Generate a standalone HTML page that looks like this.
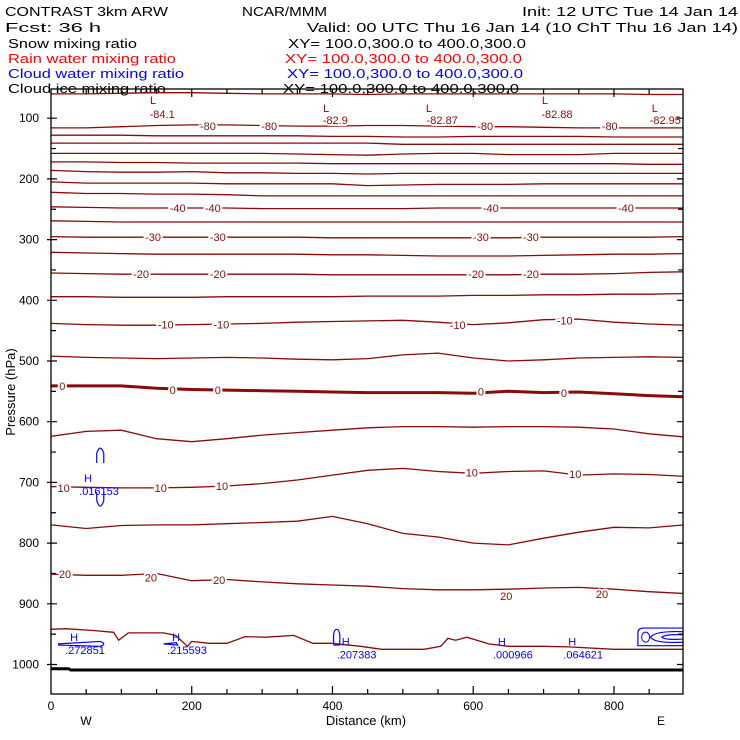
<!DOCTYPE html>
<html><head><meta charset="utf-8"><style>
html,body{margin:0;padding:0;background:#fff;}
svg{display:block;font-family:"Liberation Sans",sans-serif;}
</style></head><body>
<svg id="chart" width="740" height="740" viewBox="0 0 740 740" xmlns="http://www.w3.org/2000/svg">
<g font-size="13">
<text x="5" y="16" textLength="163" lengthAdjust="spacingAndGlyphs">CONTRAST  3km ARW</text>
<text x="242" y="16" textLength="85" lengthAdjust="spacingAndGlyphs">NCAR/MMM</text>
<text x="522" y="16" textLength="216" lengthAdjust="spacingAndGlyphs">Init: 12 UTC Tue 14 Jan 14</text>
<text x="5" y="32" textLength="96" lengthAdjust="spacingAndGlyphs">Fcst:    36 h</text>
<text x="307" y="32" textLength="431" lengthAdjust="spacingAndGlyphs">Valid: 00 UTC Thu 16 Jan 14 (10 ChT Thu 16 Jan 14)</text>
<text x="8" y="48" textLength="129" lengthAdjust="spacingAndGlyphs">Snow mixing ratio</text>
<text x="288" y="48" textLength="238" lengthAdjust="spacingAndGlyphs">XY= 100.0,300.0 to 400.0,300.0</text>
<text x="8" y="63" fill="#ff0000" textLength="168" lengthAdjust="spacingAndGlyphs">Rain water mixing ratio</text>
<text x="285" y="63" fill="#ff0000" textLength="237" lengthAdjust="spacingAndGlyphs">XY= 100.0,300.0 to 400.0,300.0</text>
<text x="8" y="78" fill="#0000ff" textLength="176" lengthAdjust="spacingAndGlyphs">Cloud water mixing ratio</text>
<text x="287" y="78" fill="#0000ff" textLength="236" lengthAdjust="spacingAndGlyphs">XY= 100.0,300.0 to 400.0,300.0</text>
<text x="8" y="93" textLength="158" lengthAdjust="spacingAndGlyphs">Cloud ice mixing ratio</text>
<text x="283" y="93" textLength="236" lengthAdjust="spacingAndGlyphs">XY= 100.0,300.0 to 400.0,300.0</text>
</g>
<g id="plot"></g>
<g id="axes"></g>
</svg>
<script>
const gridKm = [0,50,100,150,200,250,300,350,400,450,500,550,600,650,700,750,800,850,900];
const c01 = [60,60,59,58,58,59,60,60,60,61,60,60,60,60,60,60,60,61,61];
const c02 = [116,116,114,112,111,111,112,113,113,112,112,113,114,114,115,116,116,116,116];
const c03 = [128,128,128,129,129,129,129,129,130,130,131,131,130,130,130,130,131,131,131];
const c04 = [141,141,141,141,141,141,141,141,141,141,143,143,143,143,143,143,143,143,143];
const c05 = [158,158,158,158,158,158,158,159,160,161,159,158,158,160,160,160,158,158,158];
const c06 = [172,172,173,173,174,174,174,174,175,175,175,175,175,175,175,175,175,176,176];
const c07 = [186,188,189,189,188,190,190,191,191,192,191,191,191,191,191,191,191,191,191];
const c08 = [205,207,207,207,207,208,208,208,208,211,210,209,209,209,208,208,208,208,208];
const c09 = [222,224,224,225,225,226,228,228,228,228,228,228,228,228,228,228,228,228,228];
const c10 = [246,247,248,248,248,248,249,249,249,249,249,248,248,248,248,248,248,248,248];
const c11 = [269,270,271,271,271,271,271,271,271,271,271,271,271,271,271,271,271,271,271];
const c12 = [295,296,296,296,296,296,296,296,297,297,297,297,297,297,296,296,296,296,295];
const c13 = [321,322,323,324,324,324,324,324,325,325,326,327,327,327,326,325,324,324,323];
const c14 = [355,356,357,357,357,357,357,357,358,358,358,358,358,358,357,357,356,354,353];
const c15 = [394,394,395,395,395,394,394,394,394,393,393,393,392,392,391,391,390,390,389];
const c16 = [438,440,441,441,440,439,438,436,435,434,433,436,440,437,432,431,436,439,441];
const c17 = [492,494,495,496,495,494,495,497,498,496,490,487,495,500,498,495,494,493,494];
const c18 = [541,541,541,545,547,548,549,550,551,552,552,552,553,550,552,551,554,557,559];
const c19 = [624,616,614,628,633,628,622,618,614,610,608,608,609,608,608,609,612,620,625];
const c20 = [707,708,709,709,708,706,702,696,688,680,677,682,685,682,681,688,686,687,690];
const c21 = [770,776,771,770,770,768,766,764,756,768,784,790,800,803,792,782,774,775,770];
const c22 = [851,853,853,850,862,860,864,867,869,871,875,877,877,876,874,873,876,880,883];
const tempContours = [c01,c02,c03,c04,c05,c06,c07,c08,c09,c10,c11,c12,c13,c14,c15,c16,c17,c18,c19,c20,c21,c22];
const thickIndex = 17;
const groundKm = [0,21,60,89,96,110,160,177,194,200,225,250,276,305,345,372,399,440,470,530,554,564,575,591,622,650,700,736,800,900];
const groundP = [942,941,944,947,960,948,948,952,970,962,965,965,954,955,952,965,965,970,975,975,970,957,960,955,966,970,970,971,975,975];
const surfaceKm = [0,25,28,900];
const surfaceP = [1007,1007,1009,1009];
const labelKm = [
  145,158,391,404,537,556,702,719,858,873,
  223,310,617,794,
  180,230,625,817,
  145,237,611,682,
  128,237,604,682,
  163,242,578,730,
  16,173,237,611,729,
  18,156,243,598,745,
  20,142,239,647,783];
const labelP = [
  70,93,83,103,83,103,70,93,83,103,
  113,113,113,113,
  248,248,248,248,
  296,296,296,296,
  357,357,357,357,
  440,440,441,433,
  541,548,548,550,553,
  709,709,706,684,686,
  851,857,861,887,884];
const labelText = [
  "L","-84.1","L","-82.9","L","-82.87","L","-82.88","L","-82.95",
  "-80","-80","-80","-80",
  "-40","-40","-40","-40",
  "-30","-30","-30","-30",
  "-20","-20","-20","-20",
  "-10","-10","-10","-10",
  "0","0","0","0","0",
  "10","10","10","10","10",
  "20","20","20","20","20"];
const cwKm = [20,165,406,628,728,40];
const cwP = [968,968,975,975,975,706];
const cwText = [".272851",".215593",".207383",".000966",".064621",".016153"];
const xTickLabels = [0,200,400,600,800];
const yTickLabels = [100,200,300,400,500,600,700,800,900,1000];

const X0=51, X1=683, Y0=89, Y1=694;
const xs = km => 51 + km*0.7037;
const ys = p => 421.7 + (p-600)*0.607;
const NS="http://www.w3.org/2000/svg";
const plot=document.getElementById('plot'), axes=document.getElementById('axes');
function mk(tag, parent){const e=document.createElementNS(NS,tag);parent.appendChild(e);return e;}
const DR="#8b0a0a";

const clip=mk('clipPath',document.getElementById('chart'));clip.setAttribute('id','pc');
const cr=mk('rect',clip);cr.setAttribute('x',X0);cr.setAttribute('y',Y0);cr.setAttribute('width',X1-X0);cr.setAttribute('height',Y1-Y0);
plot.setAttribute('clip-path','url(#pc)');

tempContours.forEach((arr,i)=>{
  const p=mk('path',plot);
  
  
  p.setAttribute('d',arr.map((v,j)=>(j?'L':'M')+xs(gridKm[j]).toFixed(1)+','+ys(v).toFixed(1)).join(''));
  p.setAttribute('fill','none');p.setAttribute('stroke',DR);p.setAttribute('stroke-width',i===thickIndex?3:1.3);
});
const g=mk('path',plot);


g.setAttribute('d',groundKm.map((k,j)=>(j?'L':'M')+xs(k).toFixed(1)+','+ys(groundP[j]).toFixed(1)).join(''));
g.setAttribute('fill','none');g.setAttribute('stroke',DR);g.setAttribute('stroke-width',1.3);
const s=mk('path',plot);


s.setAttribute('d',surfaceKm.map((k,j)=>(j?'L':'M')+xs(k).toFixed(1)+','+ys(surfaceP[j]).toFixed(1)).join(''));
s.setAttribute('fill','none');s.setAttribute('stroke','#000');s.setAttribute('stroke-width',3);

function blue(d,name){const p=mk('path',plot);


p.setAttribute('d',d);p.setAttribute('fill','none');p.setAttribute('stroke','#0000ff');p.setAttribute('stroke-width',1.2);}
blue(`M${xs(10)},${ys(966)} L${xs(70)},${ys(962)} Q${xs(80)},${ys(966)} ${xs(70)},${ys(970)} L${xs(10)},${ys(968)}`,'cloud-water-contour');
blue(`M${xs(160)},${ys(966)} L${xs(178)},${ys(964)} L${xs(180)},${ys(968)} Z`,'cloud-water-contour');
blue(`M${xs(402)},${ys(968)} Q${xs(400)},${ys(942)} ${xs(406)},${ys(942)} Q${xs(412)},${ys(942)} ${xs(410)},${ys(968)} Z`,'cloud-water-contour');
blue(`M${xs(65)},${ys(668)} L${xs(65)},${ys(652)} Q${xs(70)},${ys(635)} ${xs(75)},${ys(652)} L${xs(75)},${ys(668)} M${xs(65)},${ys(716)} L${xs(65)},${ys(730)} Q${xs(70)},${ys(748)} ${xs(75)},${ys(730)} L${xs(75)},${ys(716)}`,'cloud-water-contour');
blue(`M${xs(900)},${ys(940)} L${xs(842)},${ys(940)} Q${xs(834)},${ys(940)} ${xs(834)},${ys(948)} L${xs(834)},${ys(969)} L${xs(900)},${ys(969)} M${xs(900)},${ys(946)} Q${xs(858)},${ys(944)} ${xs(852)},${ys(955)} Q${xs(858)},${ys(966)} ${xs(900)},${ys(963)} M${xs(900)},${ys(951)} Q${xs(872)},${ys(950)} ${xs(868)},${ys(955)} Q${xs(872)},${ys(960)} ${xs(900)},${ys(958)}`,'cloud-water-contour');
const circ=mk('ellipse',plot);


circ.setAttribute('cx',xs(845));circ.setAttribute('cy',ys(955));circ.setAttribute('rx',4);circ.setAttribute('ry',5);circ.setAttribute('fill','none');circ.setAttribute('stroke','#0000ff');

labelKm.forEach((k,i)=>{
  const t=mk('text',plot);
  
  
  t.setAttribute('x',xs(k));t.setAttribute('y',ys(labelP[i])+4);
  t.setAttribute('font-size','11');t.setAttribute('fill',DR);t.setAttribute('text-anchor','middle');
  t.setAttribute('stroke','#fff');t.setAttribute('stroke-width','4');t.setAttribute('paint-order','stroke');
  t.textContent=labelText[i];
});
cwKm.forEach((k,i)=>{
  const h=mk('text',plot);
  
  
  h.setAttribute('x',xs(k)+5);h.setAttribute('y',ys(cwP[i])-4);h.setAttribute('font-size','11');h.setAttribute('fill','#0000ff');
  h.textContent='H';
  const t=mk('text',plot);
  
  
  t.setAttribute('x',xs(k));t.setAttribute('y',ys(cwP[i])+9);t.setAttribute('font-size','11');t.setAttribute('fill','#0000ff');
  t.textContent=cwText[i];
});

const fr=mk('rect',axes);


fr.setAttribute('x',X0);fr.setAttribute('y',Y0);fr.setAttribute('width',X1-X0);fr.setAttribute('height',Y1-Y0);
fr.setAttribute('fill','none');fr.setAttribute('stroke','#000');fr.setAttribute('stroke-width',1.3);
let td='';
for(let k=50;k<900;k+=50){const x=xs(k);const L=(k%200===0)?8:5;td+=`M${x},${Y1}v${-L}M${x},${Y0}v${L}`;}
for(let p=100;p<=1000;p+=50){const y=ys(p);const L=(p%100===0)?6:5;td+=`M${X0-(p%100===0?4:0)},${y}h${L+(p%100===0?4:0)}M${X1},${y}h${-L}`;}
const tk=mk('path',axes);


tk.setAttribute('d',td);tk.setAttribute('stroke','#000');tk.setAttribute('stroke-width',1.2);
xTickLabels.forEach(v=>{const t=mk('text',axes);


t.setAttribute('x',xs(v));t.setAttribute('y',710);t.setAttribute('font-size','12');t.setAttribute('text-anchor','middle');t.textContent=v;});
yTickLabels.forEach(v=>{const t=mk('text',axes);


t.setAttribute('x',39);t.setAttribute('y',ys(v)+4);t.setAttribute('font-size','12');t.setAttribute('text-anchor','end');t.textContent=v;});
const xt=mk('text',axes);


xt.setAttribute('x',366);xt.setAttribute('y',725);xt.setAttribute('font-size','13');xt.setAttribute('text-anchor','middle');xt.textContent='Distance (km)';
const w=mk('text',axes);


w.setAttribute('x',86);w.setAttribute('y',725);w.setAttribute('font-size','12');w.setAttribute('text-anchor','middle');w.textContent='W';
const e=mk('text',axes);


e.setAttribute('x',661);e.setAttribute('y',725);e.setAttribute('font-size','12');e.setAttribute('text-anchor','middle');e.textContent='E';
const yt=mk('text',axes);


yt.setAttribute('transform','translate(15,392) rotate(-90)');yt.setAttribute('font-size','13');yt.setAttribute('text-anchor','middle');yt.textContent='Pressure (hPa)';
</script>
</body></html>
